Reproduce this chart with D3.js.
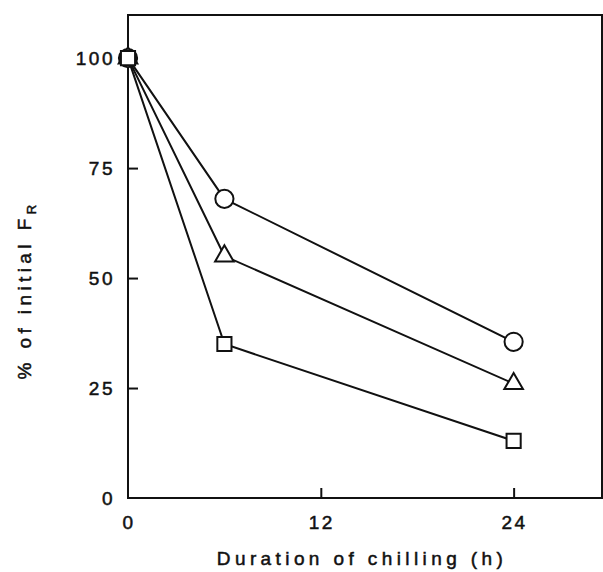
<!DOCTYPE html>
<html>
<head>
<meta charset="utf-8">
<script src="https://cdn.jsdelivr.net/npm/d3@7"></script>
<style>
  body { margin: 0; background: #fff; }
  text { font-family: "Liberation Sans", Arial, sans-serif; fill: #111; stroke: #111; stroke-width: 0.5px; }
</style>
</head>
<body>
<div id="root"></div>
<script>
// hours of chilling
var hours = [0, 6, 24];
var circleVals = [100, 68, 35.5];
var triangleVals = [100, 55, 26];
var squareVals = [100, 35, 13];
var xTicks = [0, 12, 24];
var yTicks = [0, 25, 50, 75, 100];

var width = 603, height = 572;
var padLeft = 128, padRight = 602, padTop = 15, padBottom = 498;

var svg = d3.select("#root").append("svg")
    .attr("width", width)
    .attr("height", height);

var x = d3.scaleLinear().domain([0, 29.5]).range([padLeft, padRight]);
var y = d3.scaleLinear().domain([0, 109.8]).range([padBottom, padTop]);

// frame
svg.append("rect")
    .attr("x", padLeft).attr("y", padTop)
    .attr("width", padRight - padLeft).attr("height", padBottom - padTop)
    .attr("fill", "none").attr("stroke", "#111").attr("stroke-width", 2);

// y axis, ticks pointing inward
var yAxis = svg.append("g")
    .attr("transform", "translate(" + padLeft + ",0)")
    .call(d3.axisRight(y).tickValues(yTicks.filter(d => d > 0)).tickSize(10).tickFormat(""));
yAxis.select(".domain").remove();
yAxis.selectAll("line").attr("stroke", "#111").attr("stroke-width", 2);

svg.selectAll(".ylab")
    .data(yTicks)
    .enter().append("text")
    .attr("x", 115)
    .attr("y", d => y(d))
    .attr("dy", "0.36em")
    .attr("text-anchor", "end")
    .attr("font-size", 19)
    .attr("letter-spacing", 2.5)
    .text(d => d);

// x axis, ticks pointing up
var xAxis = svg.append("g")
    .attr("transform", "translate(0," + padBottom + ")")
    .call(d3.axisTop(x).tickValues(xTicks.filter(d => d > 0)).tickSize(10).tickFormat(""));
xAxis.select(".domain").remove();
xAxis.selectAll("line").attr("stroke", "#111").attr("stroke-width", 2);

svg.selectAll(".xlab")
    .data(xTicks)
    .enter().append("text")
    .attr("x", d => x(d) + 1)
    .attr("y", 529)
    .attr("text-anchor", "middle")
    .attr("font-size", 19)
    .attr("letter-spacing", 2.5)
    .text(d => d);

svg.append("text")
    .attr("x", 362).attr("y", 565)
    .attr("text-anchor", "middle")
    .attr("font-size", 19)
    .attr("letter-spacing", 4.4)
    .text("Duration of chilling (h)");

var yt = svg.append("text")
    .attr("transform", "translate(31,290) rotate(-90)")
    .attr("text-anchor", "middle")
    .attr("font-size", 19)
    .attr("letter-spacing", 4.4);
yt.append("tspan").text("% of initial F");
yt.append("tspan").attr("font-size", 13).attr("dy", 5).text("R");

// series
var series = [
  { vals: circleVals, shape: d3.symbolCircle, size: 260 },
  { vals: triangleVals, shape: d3.symbolTriangle, size: 150 },
  { vals: squareVals, shape: d3.symbolSquare, size: 200 }
];

var line = d3.line().x(d => x(d[0])).y(d => y(d[1]));

series.forEach(function (s) {
  var pts = hours.map((h, i) => [h, s.vals[i]]);
  svg.append("path")
      .datum(pts)
      .attr("d", line)
      .attr("fill", "none")
      .attr("stroke", "#111")
      .attr("stroke-width", 2);
});

series.forEach(function (s) {
  var pts = hours.map((h, i) => [h, s.vals[i]]);
  svg.selectAll(null)
      .data(pts)
      .enter().append("path")
      .attr("transform", d => "translate(" + x(d[0]) + "," + y(d[1]) + ")")
      .attr("d", d3.symbol().type(s.shape).size(s.size))
      .attr("fill", "#fff")
      .attr("stroke", "#111")
      .attr("stroke-width", 2);
});
</script>
</body>
</html>
